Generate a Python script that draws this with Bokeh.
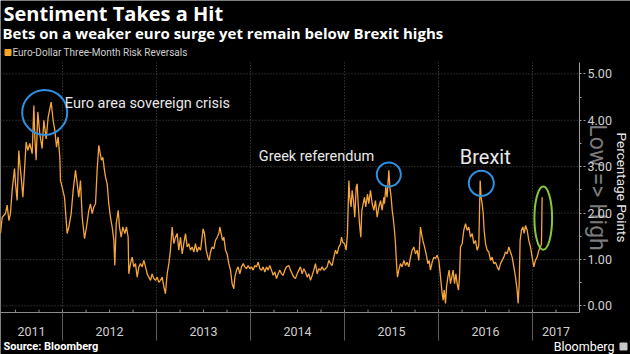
import math
from bokeh.plotting import figure
from bokeh.models import Range1d, FixedTicker, PrintfTickFormatter
from bokeh.core.properties import value
from bokeh.embed import file_html
from bokeh.resources import INLINE

# ---------------- data (decimal years, percentage points) ----------------
dates_a = [2011.340, 2011.358, 2011.393, 2011.411, 2011.429, 2011.446, 2011.464, 2011.489, 2011.500, 2011.517,
           2011.535, 2011.546, 2011.560, 2011.578, 2011.595, 2011.613, 2011.631, 2011.652, 2011.677, 2011.695,
           2011.705, 2011.719, 2011.737, 2011.758, 2011.783, 2011.801, 2011.826, 2011.847, 2011.879, 2011.900,
           2011.918, 2011.936, 2011.953, 2011.971, 2011.978, 2011.996, 2012.021, 2012.049, 2012.067, 2012.092,
           2012.113, 2012.138, 2012.156, 2012.173, 2012.191, 2012.209, 2012.234, 2012.255, 2012.280, 2012.297,
           2012.315, 2012.333, 2012.351, 2012.368, 2012.386, 2012.404]
values_a = [1.56, 1.91, 1.99, 2.17, 1.84, 1.99, 2.49, 2.96, 2.63, 2.27,
            3.35, 3.06, 2.78, 2.34, 2.92, 3.53, 3.35, 3.50, 3.28, 4.32,
            3.64, 3.14, 4.18, 3.71, 3.39, 4.00, 3.60, 4.07, 4.39, 4.00,
            3.78, 3.42, 3.64, 3.21, 2.70, 2.56, 2.34, 1.56, 1.70, 1.99,
            2.49, 2.92, 2.63, 2.34, 2.70, 1.91, 1.45, 1.70, 2.06, 2.20,
            1.99, 2.13, 2.20, 2.92, 3.46, 3.25]

dates_b = [2012.414, 2012.429, 2012.446, 2012.457, 2012.475, 2012.492, 2012.510, 2012.528, 2012.546, 2012.556,
           2012.571, 2012.592, 2012.606, 2012.624, 2012.641, 2012.663, 2012.680, 2012.698, 2012.705, 2012.723,
           2012.741, 2012.758, 2012.776, 2012.794, 2012.812, 2012.829, 2012.847, 2012.865, 2012.883, 2012.900,
           2012.918, 2012.936, 2012.953, 2012.971, 2012.989, 2013.007, 2013.024, 2013.042, 2013.060, 2013.078,
           2013.095, 2013.113, 2013.131, 2013.148, 2013.166, 2013.184, 2013.202, 2013.219, 2013.237, 2013.255,
           2013.273, 2013.290, 2013.308, 2013.326, 2013.343, 2013.361, 2013.379, 2013.397]
values_b = [3.14, 3.20, 2.92, 2.78, 2.63, 2.20, 1.91, 1.70, 1.41, 0.87,
            1.77, 2.06, 1.70, 1.48, 1.70, 1.56, 1.70, 1.48, 0.69, 0.91,
            1.05, 0.84, 0.91, 0.62, 0.84, 0.91, 0.84, 0.98, 0.84, 0.69,
            0.62, 0.55, 0.69, 0.59, 0.55, 0.62, 0.51, 0.55, 0.62, 0.41,
            0.26, 0.69, 0.91, 1.20, 1.70, 1.34, 1.48, 1.56, 1.20, 1.48,
            1.12, 1.34, 1.56, 1.27, 1.34, 1.20, 1.27, 1.16]

dates_c = [2013.414, 2013.432, 2013.450, 2013.468, 2013.485, 2013.496, 2013.510, 2013.528, 2013.546, 2013.560,
           2013.574, 2013.592, 2013.609, 2013.627, 2013.645, 2013.663, 2013.673, 2013.687, 2013.702, 2013.716,
           2013.734, 2013.751, 2013.769, 2013.787, 2013.804, 2013.822, 2013.833, 2013.851, 2013.868, 2013.886,
           2013.904, 2013.922, 2013.939, 2013.957, 2013.975, 2013.992, 2014.010, 2014.028, 2014.046, 2014.063,
           2014.081, 2014.099, 2014.117, 2014.134, 2014.152, 2014.170, 2014.187, 2014.205, 2014.223, 2014.241,
           2014.258, 2014.276, 2014.294, 2014.312, 2014.329, 2014.347, 2014.365, 2014.382]
values_c = [1.34, 1.16, 1.27, 1.20, 1.48, 1.66, 1.56, 1.20, 1.05, 0.98,
            1.16, 1.27, 1.23, 1.41, 1.48, 1.56, 1.70, 1.56, 1.41, 1.48,
            1.20, 1.12, 0.91, 0.77, 0.48, 0.37, 0.62, 0.77, 0.84, 0.69,
            0.84, 0.91, 0.84, 0.80, 0.87, 0.80, 0.84, 0.77, 0.87, 0.84,
            0.94, 0.80, 0.77, 0.84, 0.73, 0.84, 0.77, 0.87, 0.77, 0.66,
            0.73, 0.59, 0.69, 0.77, 0.69, 0.66, 0.77, 0.84]

dates_d = [2014.407, 2014.425, 2014.443, 2014.460, 2014.478, 2014.496, 2014.514, 2014.531, 2014.549, 2014.567,
           2014.585, 2014.602, 2014.620, 2014.638, 2014.656, 2014.673, 2014.691, 2014.709, 2014.726, 2014.744,
           2014.762, 2014.780, 2014.797, 2014.815, 2014.833, 2014.851, 2014.868, 2014.886, 2014.904, 2014.921,
           2014.939, 2014.957, 2014.968, 2014.982, 2015.000, 2015.017, 2015.031, 2015.046, 2015.056, 2015.070,
           2015.081, 2015.095, 2015.109, 2015.124, 2015.134, 2015.145, 2015.159, 2015.173, 2015.184, 2015.198,
           2015.212, 2015.226, 2015.244, 2015.258, 2015.276, 2015.294, 2015.312, 2015.329, 2015.347, 2015.365,
           2015.383, 2015.400, 2015.418]
values_d = [0.87, 0.77, 0.69, 0.62, 0.59, 0.69, 0.77, 0.84, 0.69, 0.80,
            0.73, 0.62, 0.69, 0.55, 0.66, 0.77, 0.91, 0.69, 0.80, 0.77,
            0.84, 0.77, 0.80, 0.84, 0.98, 0.91, 0.87, 1.05, 1.20, 1.12,
            1.27, 1.34, 1.48, 1.37, 1.34, 1.20, 1.56, 2.70, 2.34, 2.13,
            2.49, 2.27, 1.91, 2.56, 2.63, 2.20, 1.77, 1.48, 2.06, 2.20,
            2.34, 2.13, 2.41, 2.20, 2.49, 2.20, 2.06, 2.27, 1.91, 2.13,
            2.27, 2.06, 2.34]

dates_e = [2015.425, 2015.439, 2015.453, 2015.471, 2015.482, 2015.496, 2015.507, 2015.517, 2015.531, 2015.542,
           2015.553, 2015.563, 2015.577, 2015.595, 2015.613, 2015.631, 2015.649, 2015.666, 2015.684, 2015.702,
           2015.719, 2015.737, 2015.755, 2015.773, 2015.790, 2015.808, 2015.819, 2015.833, 2015.851, 2015.868,
           2015.886, 2015.900, 2015.914, 2015.932, 2015.950, 2015.968, 2015.985, 2016.003, 2016.014, 2016.028,
           2016.039, 2016.049, 2016.060, 2016.074, 2016.085, 2016.099, 2016.113, 2016.127, 2016.141, 2016.155,
           2016.170, 2016.184, 2016.198, 2016.212, 2016.223, 2016.234, 2016.251, 2016.269, 2016.287, 2016.305,
           2016.322, 2016.340, 2016.358, 2016.375, 2016.393, 2016.411, 2016.428]
values_e = [2.20, 2.56, 2.34, 2.92, 2.56, 2.34, 2.06, 1.91, 1.63, 1.34,
            0.91, 0.62, 0.77, 0.91, 0.84, 0.98, 0.87, 0.94, 0.84, 1.05,
            1.20, 1.27, 1.12, 1.20, 0.98, 1.70, 1.56, 1.41, 1.27, 1.12,
            0.91, 0.98, 0.77, 0.94, 1.05, 1.02, 1.09, 0.98, 0.77, 0.48,
            0.26, 0.12, 0.34, 0.05, 0.41, 0.62, 0.77, 0.48, 0.62, 0.77,
            0.48, 0.69, 0.48, 0.34, 0.62, 1.27, 1.34, 1.63, 1.77, 1.63,
            1.70, 1.48, 1.56, 1.34, 1.41, 1.20, 1.30]

dates_f = [2016.443, 2016.453, 2016.464, 2016.475, 2016.485, 2016.500, 2016.517, 2016.535, 2016.553, 2016.570,
           2016.588, 2016.606, 2016.624, 2016.641, 2016.659, 2016.677, 2016.695, 2016.712, 2016.730, 2016.748,
           2016.765, 2016.783, 2016.801, 2016.819, 2016.836, 2016.847, 2016.858, 2016.868, 2016.882, 2016.897,
           2016.911, 2016.925, 2016.943, 2016.960, 2016.978, 2016.996, 2017.014, 2017.031, 2017.049, 2017.067,
           2017.085, 2017.095, 2017.102]
values_f = [2.70, 2.34, 2.20, 1.99, 1.63, 1.34, 1.20, 1.16, 0.98, 1.05,
            0.91, 0.94, 0.84, 0.77, 0.91, 0.98, 1.05, 1.16, 1.12, 1.27,
            1.16, 1.05, 0.84, 0.62, 0.34, 0.05, 0.48, 1.41, 1.63, 1.70,
            1.56, 1.73, 1.63, 1.41, 1.27, 1.05, 0.84, 0.98, 1.05, 1.20,
            1.27, 1.34, 2.34]

dates = dates_a + dates_b + dates_c + dates_d + dates_e + dates_f
values = values_a + values_b + values_c + values_d + values_e + values_f
n = min(len(dates), len(values))
dates, values = dates[:n], values[:n]

series_name = "Euro-Dollar Three-Month Risk Reversals"
years = [2011, 2012, 2013, 2014, 2015, 2016, 2017]
y_ticks = [0, 1, 2, 3, 4, 5]

events = ["Euro area sovereign crisis", "Greek referendum"]
event_x = [2012.024, 2014.088]
event_y = [4.37, 3.21]
brexit_text, brexit_x, brexit_y = "Brexit", 2016.226, 3.21
circle_x = [2011.810, 2015.471, 2016.455]
circle_y = [4.17, 2.83, 2.64]
circle_px = [45, 24, 25]
latest_x, latest_y = 2017.114, 1.89

# plot-area extents (data units)
X0, X1 = 2011.34, 2017.50        # x-axis extent
Y0, Y1 = -0.14, 5.245            # y-axis extent
PX_PER_YEAR, PX_PER_PT = 94.0, 46.4
W, H = 630, 354
# whole canvas expressed in data units
XR = X0 + W / PX_PER_YEAR
YT = Y1 + 62 / PX_PER_PT
YB = YT - H / PX_PER_PT

FONT = "Roboto"

p = figure(width=W, height=H, x_range=Range1d(X0, XR), y_range=Range1d(YB, YT),
           y_axis_location="right", output_backend="svg", toolbar_location=None, title=None,
           background_fill_color="black", border_fill_color="black", outline_line_color=None,
           min_border_left=0, min_border_right=0, min_border_top=0, min_border_bottom=0)
p.extra_x_ranges = {"px": Range1d(0, W)}
p.extra_y_ranges = {"py": Range1d(H, 0)}
p.xgrid.visible = False
p.ygrid.visible = False

# gridlines (dotted) limited to the plot area
p.segment(x0=X0, y0=y_ticks, x1=X1, y1=y_ticks, line_color="#505050", line_dash="1 2", line_width=1)
p.segment(x0=years[1:], y0=Y0, x1=years[1:], y1=Y1, line_color="#505050", line_dash="1 2", line_width=1)

# x axis: year labels centred in each (visible) year, separators at year boundaries
label_pos = [(max(y, X0) + min(y + 1, X1)) / 2 for y in years]
xa = p.xaxis[0]
xa.fixed_location = Y0
xa.bounds = (X0, X1)
xa.ticker = FixedTicker(ticks=label_pos, minor_ticks=years[1:])
xa.major_label_overrides = {pos: str(y) for pos, y in zip(label_pos, years)}
xa.major_tick_line_color = None
xa.major_tick_out = 0
xa.major_tick_in = 0
xa.minor_tick_out = 28
xa.minor_tick_in = 0
xa.minor_tick_line_color = "#5c5c5c"
xa.axis_line_color = "#8c8c8c"
xa.major_label_text_color = "#d0d0d0"
xa.major_label_text_font = FONT
xa.major_label_text_font_size = "12.5px"
xa.major_label_standoff = -13

quarters = [y + q * 0.25 for y in range(2011, 2018) for q in range(4) if X0 < y + q * 0.25 < X1]
p.segment(x0=quarters, y0=Y0, x1=quarters, y1=Y0 + 0.06, line_color="#8c8c8c", line_width=1)

# y axis on the right
ya = p.yaxis[0]
ya.fixed_location = X1
ya.bounds = (Y0, Y1)
ya.ticker = FixedTicker(ticks=y_ticks, minor_ticks=[t + 0.5 for t in y_ticks[:-1]])
ya.formatter = PrintfTickFormatter(format="%.2f")
ya.axis_line_color = "#a0a0a0"
ya.major_tick_line_color = "#a0a0a0"
ya.major_tick_line_dash = "2 2"
ya.major_tick_out = 6
ya.major_tick_in = 0
ya.minor_tick_line_color = "#a0a0a0"
ya.minor_tick_out = 2
ya.minor_tick_in = 0
ya.major_label_text_color = "#d0d0d0"
ya.major_label_text_font = FONT
ya.major_label_text_font_size = "12.5px"
ya.major_label_standoff = 2

# series
p.line(dates, values, line_color="#f5a53a", line_width=1.3)

# event annotations
p.scatter(circle_x, circle_y, size=circle_px, marker="circle", fill_color=None,
          line_color="#2f8fe0", line_width=2)
p.ellipse(x=[latest_x], y=[latest_y], width=0.188, height=1.36, fill_color=None,
          line_color="#86c63c", line_width=2)
p.text(x=event_x, y=event_y, text=events, text_font=value(FONT), text_font_size="14.5px",
       text_color="#e8e8e8", text_align="left", text_baseline="middle")
p.text(x=[brexit_x], y=[brexit_y], text=[brexit_text], text_font=value(FONT), text_font_size="20px",
       text_color="#e8e8e8", text_align="left", text_baseline="middle")

# header, legend row, footer and side notes, positioned on the canvas (pixel ranges)
C = dict(x_range_name="px", y_range_name="py")
p.text(x=[3], y=[12.5], text=["Sentiment Takes a Hit"], text_font=value("Open Sans"),
       text_font_size="20px", text_font_style="bold", text_color="white",
       text_align="left", text_baseline="middle", **C)
p.text(x=[2], y=[32.5], text=["Bets on a weaker euro surge yet remain below Brexit highs"],
       text_font=value("Open Sans"), text_font_size="15px", text_font_style="bold",
       text_color="white", text_align="left", text_baseline="middle", **C)
p.scatter(x=[7.5], y=[52], marker="square", size=6, fill_color="#f5a623", line_color="#f5a623", **C)
p.text(x=[12], y=[52], text=[series_name], text_font=value(FONT), text_font_size="10px",
       text_color="#cfcfcf", text_align="left", text_baseline="middle", **C)
p.text(x=[3], y=[346], text=["Source: Bloomberg"], text_font=value(FONT), text_font_size="11px",
       text_font_style="bold", text_color="white", text_align="left", text_baseline="middle", **C)
p.text(x=[614], y=[345.5], text=["Bloomberg"], text_font=value(FONT), text_font_size="12.5px",
       text_color="white", text_align="right", text_baseline="middle", **C)
p.scatter(x=[623], y=[346], marker="square", size=7, fill_color="#c8c8c8", line_color="#c8c8c8", **C)
p.text(x=[597], y=[187], text=["Low => High"], angle=-math.pi / 2, text_font=value(FONT),
       text_font_size="23px", text_color="#7c7c7c", text_align="center", text_baseline="middle", **C)
p.text(x=[621.5], y=[187], text=["Percentage Points"], angle=-math.pi / 2, text_font=value(FONT),
       text_font_size="13.5px", text_color="#e6e6e6", text_align="center", text_baseline="middle", **C)

open("out.html", "w").write(file_html(p, INLINE))
